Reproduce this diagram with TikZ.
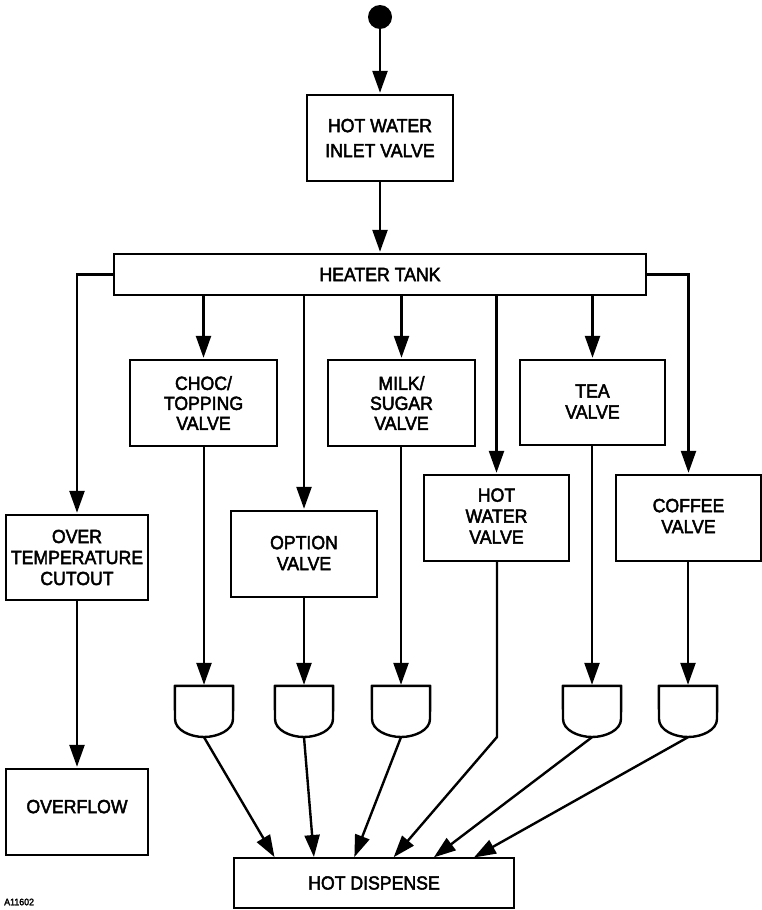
\documentclass[tikz,border=0pt]{standalone}
\usepackage{fontspec}
\setmainfont[FakeStretch=0.93,FakeBold=2.5]{Liberation Sans}
\usetikzlibrary{arrows.meta}

\tikzset{
	valvebox/.style={draw, line width=2.4pt, inner sep=0pt, align=center, font=\fontsize{19}{25}\selectfont},
	tightbox/.style={valvebox, font=\fontsize{19}{20}\selectfont},
	midbox/.style={valvebox, font=\fontsize{19}{21}\selectfont},
	flowline/.style={line width=2.4pt, -{Triangle[length=22pt,width=15pt]}, shorten >=1pt},
	gateline/.style={line width=2.4pt, line join=round},
}

% one dispense gate: name, centre x
\newcommand{\dispensegate}[2]{
	\node [minimum width=58pt, minimum height=51pt, inner sep=0pt] (#1) at (#2, 711.5) {};
	\draw [gateline] (#1.north west) -- (#1.north east) -- (#2+29, 719)
		.. controls (#2+29, 730) and (#2+14, 737) .. (#2, 737)
		.. controls (#2-14, 737) and (#2-29, 730) .. (#2-29, 719) -- cycle;
}

\begin{document}
\begin{tikzpicture}[x=1pt, y=-1pt]
	\useasboundingbox (0, 0) rectangle (762, 910);

	\node [circle, fill=black, minimum size=24pt, inner sep=0pt] (start) at (380, 17) {};

	\node [valvebox, minimum width=146pt, minimum height=86pt] (inlet) at (380, 138) {HOT WATER\\INLET VALVE};
	\node [valvebox, minimum width=532pt, minimum height=41pt] (tank) at (380, 274.5) {HEATER TANK};

	\node [tightbox, minimum width=147pt, minimum height=86pt] (choc) at (203.5, 403) {CHOC/\\TOPPING\\VALVE};
	\node [tightbox, minimum width=147pt, minimum height=86pt] (milk) at (401.5, 403) {MILK/\\SUGAR\\VALVE};
	\node [midbox, minimum width=145pt, minimum height=85pt, text depth=2pt] (tea) at (592.5, 402.5) {TEA\\VALVE};
	\node [midbox, minimum width=145pt, minimum height=86pt, text depth=4pt] (hotwater) at (496.5, 518) {HOT\\WATER\\VALVE};
	\node [midbox, minimum width=145pt, minimum height=86pt, text depth=4pt] (coffee) at (688.5, 518) {COFFEE\\VALVE};
	\node [midbox, minimum width=146pt, minimum height=86pt, text depth=2pt] (option) at (304, 554) {OPTION\\VALVE};
	\node [midbox, minimum width=142pt, minimum height=85pt] (cutout) at (77, 557.5) {OVER\\TEMPERATURE\\CUTOUT};
	\node [valvebox, minimum width=142pt, minimum height=86pt] (overflow) at (77, 812) {\raisebox{11pt}{OVERFLOW}};
	\node [valvebox, minimum width=280pt, minimum height=50pt] (dispense) at (374, 883) {HOT DISPENSE};

	\node [font=\fontsize{9.5}{10}\selectfont, anchor=west, inner sep=0pt] (drawingno) at (4, 902) {A11602};

	\dispensegate{gatea}{204}
	\dispensegate{gateb}{304}
	\dispensegate{gatec}{401}
	\dispensegate{gated}{592}
	\dispensegate{gatee}{688}

	\coordinate (bendwater) at (497, 737);
	\coordinate (ina) at (275, 858);
	\coordinate (inb) at (314, 858);
	\coordinate (inc) at (354, 858);
	\coordinate (ind) at (393, 858);
	\coordinate (ine) at (433, 858);
	\coordinate (inf) at (473, 858);

	\draw [flowline] (start.south) -- (inlet.north);
	\draw [flowline] (inlet.south) -- (tank.north);

	\draw [flowline] (tank.west) -| (cutout.north);
	\draw [flowline] (tank.east) -| (coffee.north);
	\draw [flowline] (tank.south -| choc.north) -- (choc.north);
	\draw [flowline] (tank.south -| option.north) -- (option.north);
	\draw [flowline] (tank.south -| milk.north) -- (milk.north);
	\draw [flowline] (tank.south -| hotwater.north) -- (hotwater.north);
	\draw [flowline] (tank.south -| tea.north) -- (tea.north);

	\draw [flowline] (cutout.south) -- (overflow.north);

	\draw [flowline] (choc.south -| gatea.north) -- (gatea.north);
	\draw [flowline] (option.south -| gateb.north) -- (gateb.north);
	\draw [flowline] (milk.south -| gatec.north) -- (gatec.north);
	\draw [flowline] (tea.south -| gated.north) -- (gated.north);
	\draw [flowline] (coffee.south -| gatee.north) -- (gatee.north);

	\draw [flowline] (gatea.south) -- (ina);
	\draw [flowline] (gateb.south) -- (inb);
	\draw [flowline] (gatec.south) -- (inc);
	\draw [flowline] (hotwater.south -| bendwater) -- (bendwater) -- (ind);
	\draw [flowline] (gated.south) -- (ine);
	\draw [flowline] (gatee.south) -- (inf);

\end{tikzpicture}
\end{document}
